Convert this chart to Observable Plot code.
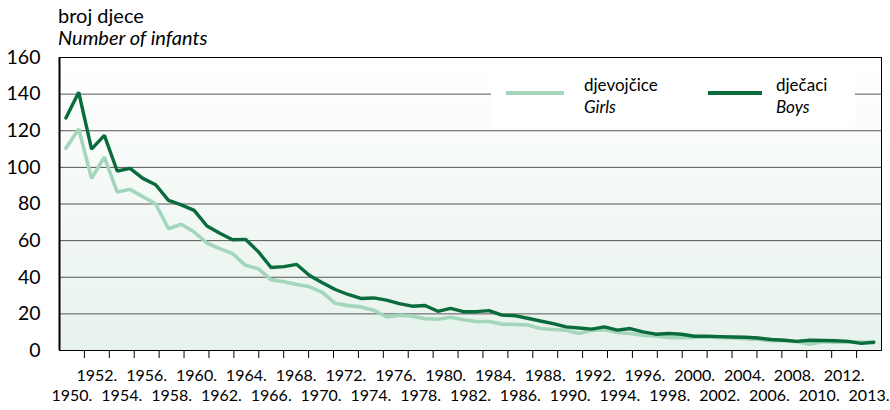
<!DOCTYPE html>
<html><head><meta charset="utf-8">
<script src="https://cdn.jsdelivr.net/npm/d3@7"></script>
<script src="https://cdn.jsdelivr.net/npm/@observablehq/plot@0.6"></script>
<style>
body{margin:0;background:#fff;font-family:Lato,"Noto Sans",sans-serif;color:#000;}
#wrap{position:relative;width:890px;height:410px;overflow:hidden;}
#wrap svg{position:absolute;left:0;top:0;}
.t{position:absolute;white-space:nowrap;line-height:22px;}
.sw{position:absolute;height:4px;}
</style></head><body><div id="wrap"></div>
<script>
const years = [1950,1951,1952,1953,1954,1955,1956,1957,1958,1959,1960,1961,1962,1963,1964,1965,1966,1967,1968,1969,
  1970,1971,1972,1973,1974,1975,1976,1977,1978,1979,1980,1981,1982,1983,1984,1985,1986,1987,1988,1989,
  1990,1991,1992,1993,1994,1995,1996,1997,1998,1999,2000,2001,2002,2003,2004,2005,2006,2007,2008,2009,
  2010,2011,2012,2013];
const girls = [110.5,121,94,105.6,86.5,88,84,80,66.5,68.9,64.7,58.7,55.6,52.9,46.5,44.7,38.7,37.5,36,34.8,
  31.7,25.8,24.5,23.8,22,18.3,19.3,18.7,17.4,17.1,18.2,16.8,15.8,15.8,14.4,14.2,13.9,12,11.5,11.1,
  9.3,11,11.3,9.8,9.3,8.4,7.8,7.1,7,7.1,7.4,7,6.8,6.4,6,5.4,5.4,4.8,3.4,4.8,
  4.6,4.6,4.6,4.3];
const boys = [127,141,110,117.5,98,99.5,94,90.5,82,79.5,76.5,68,64,60.5,60.7,54,45.3,45.8,47,41,
  37,33.3,30.6,28.4,28.7,27.5,25.6,24.2,24.6,21.4,23,21.2,21.2,21.8,19.3,19,17.6,16.1,14.7,12.9,
  12.3,11.7,12.9,11.1,12,10.2,8.9,9.3,8.9,7.8,7.8,7.6,7.4,7.2,6.8,6,5.6,5,5.6,5.5,
  5.3,5,3.9,4.5];
const tickLabels = ["1950.","1952.","1954.","1956.","1958.","1960.","1962.","1964.","1966.","1968.","1970.",
  "1972.","1974.","1976.","1978.","1980.","1982.","1984.","1986.","1988.","1990.","1992.","1994.","1996.",
  "1998.","2000.","2002.","2004.","2006.","2008.","2010.","2012.","2013."];
const yTicks = [0,20,40,60,80,100,120,140,160];
const seriesNames = [["djevojčice","Girls"],["dječaci","Boys"]];
const colors = ["#a3d6bb","#0a6b3c"];
const titleLines = ["broj djece","Number of infants"];

const rows = years.flatMap((yr,i)=>[{year:yr,value:girls[i],s:0},{year:yr,value:boys[i],s:1}]);
const x0 = 1949.5, x1 = 2013.6;
const slot = (x1 - x0) / tickLabels.length;
const tickPos = tickLabels.slice(1).map((_,k)=>x0 + (k+1)*slot);
const labelRows = tickLabels.map((t,k)=>({pos:x0 + (k+0.5)*slot, t, row:k%2}));

const chart = Plot.plot({
  width:890, height:410, marginLeft:59, marginRight:9, marginTop:57, marginBottom:60,
  style:{fontFamily:"Lato, 'Noto Sans', sans-serif", color:"#000", background:"transparent", overflow:"visible"},
  x:{domain:[x0,x1], axis:null},
  y:{domain:[0,160], axis:null},
  marks:[
    Plot.frame({fill:"url(#bgGrad)", stroke:null}),
    Plot.ruleY(yTicks.slice(1,-1), {stroke:"#555", strokeWidth:1}),
    Plot.line(rows.filter(d=>d.s===0), {x:"year", y:"value", stroke:colors[0], strokeWidth:3.6, strokeLinejoin:"miter"}),
    Plot.line(rows.filter(d=>d.s===1), {x:"year", y:"value", stroke:colors[1], strokeWidth:3.4, strokeLinejoin:"miter"}),
    Plot.frame({stroke:"#000", strokeWidth:1}),
    Plot.ruleX([x0], {stroke:"#000", strokeWidth:2}),
    Plot.axisY({ticks:yTicks, tickSize:0, tickPadding:19, fontSize:19.5, label:null}),
    Plot.axisX({ticks:tickPos, tickSize:8, tickFormat:()=>"", label:null, stroke:"#000"}),
    Plot.text(labelRows.filter(d=>d.row===1), {x:"pos", text:"t", frameAnchor:"bottom", dy:30, fontSize:16}),
    Plot.text(labelRows.filter(d=>d.row===0), {x:"pos", text:"t", frameAnchor:"bottom", dy:50, fontSize:16})
  ]
});
const ns = "http://www.w3.org/2000/svg";
const defs = document.createElementNS(ns,"defs");
defs.innerHTML = '<linearGradient id="bgGrad" x1="0" y1="0" x2="0" y2="1"><stop offset="0" stop-color="#ffffff"/><stop offset="1" stop-color="#e7f2ec"/></linearGradient>';
chart.insertBefore(defs, chart.firstChild);
const wrap = document.getElementById("wrap");
wrap.appendChild(chart);

function addText(txt, left, top, size, italic){
  const d = document.createElement("div");
  d.className = "t"; d.textContent = txt;
  d.style.left = left+"px"; d.style.top = top+"px"; d.style.fontSize = size+"px";
  if (italic) d.style.fontStyle = "italic";
  wrap.appendChild(d); return d;
}
addText(titleLines[0], 58, 4, 20, false);
addText(titleLines[1], 58, 26, 20, true);

const box = document.createElement("div");
box.style.cssText = "position:absolute;left:491px;top:68px;width:364px;height:59px;background:#fff;";
wrap.appendChild(box);
const legendPos = [{sx:506, sw:58, tx:584},{sx:708, sw:54, tx:776}];
seriesNames.forEach((n,i)=>{
  const s = document.createElement("div");
  s.className = "sw";
  s.style.left = legendPos[i].sx+"px"; s.style.top = "91px"; s.style.width = legendPos[i].sw+"px";
  s.style.background = colors[i];
  wrap.appendChild(s);
  addText(n[0], legendPos[i].tx, 74, 17, false);
  addText(n[1], legendPos[i].tx, 96, 17, true);
});
</script></body></html>
